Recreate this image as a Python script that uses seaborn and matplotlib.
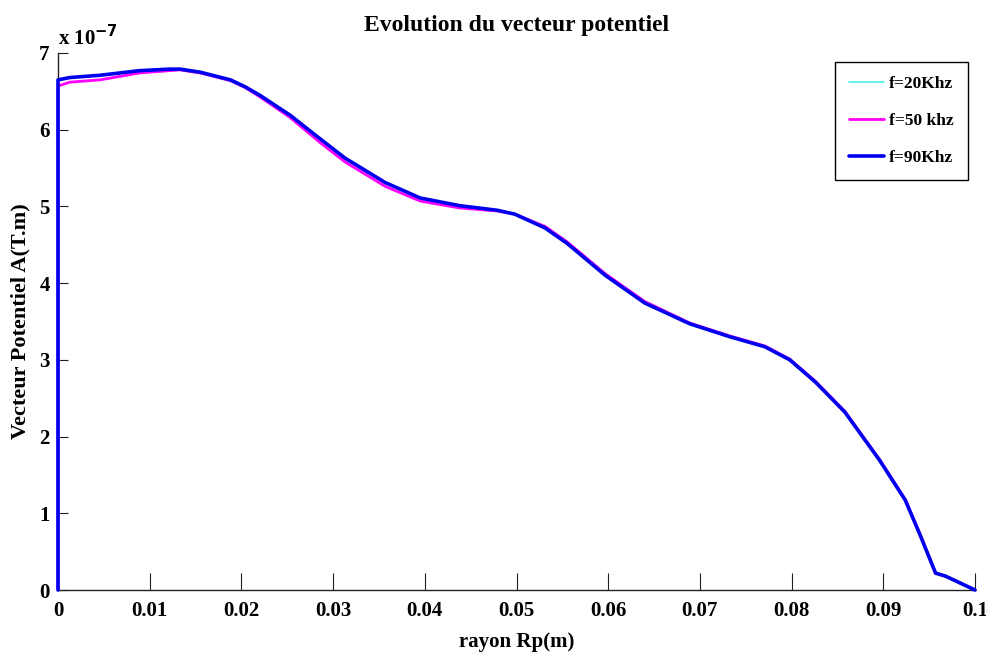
import numpy as np
import pandas as pd
import seaborn as sns
import matplotlib
matplotlib.use("Agg")
import matplotlib.pyplot as plt

# radius (m)
r = [0.0, 0.0, 0.0013, 0.0046, 0.0089, 0.0122, 0.0133, 0.0155, 0.0188, 0.0204, 0.0220,
     0.0253, 0.0286, 0.0313, 0.0357, 0.0395, 0.0438, 0.0479, 0.0498, 0.0531,
     0.0555, 0.0597, 0.0640, 0.0689, 0.0733, 0.0771, 0.0798, 0.0826, 0.0858,
     0.0896, 0.0924, 0.0940, 0.0957, 0.0968, 0.1000]

# vector potential (x 1e-7 T.m)
a_20 = [0.0, 6.65, 6.68, 6.71, 6.77, 6.79, 6.79, 6.75, 6.65, 6.56, 6.45,
        6.19, 5.88, 5.63, 5.31, 5.11, 5.01, 4.95, 4.90, 4.72,
        4.52, 4.10, 3.74, 3.47, 3.30, 3.17, 3.00, 2.71, 2.32,
        1.69, 1.17, 0.72, 0.22, 0.18, 0.0]
a_50 = [0.0, 6.57, 6.62, 6.65, 6.74, 6.77, 6.78, 6.74, 6.64, 6.55, 6.43,
        6.16, 5.83, 5.58, 5.26, 5.07, 4.98, 4.94, 4.90, 4.74,
        4.54, 4.12, 3.76, 3.48, 3.31, 3.18, 3.01, 2.72, 2.33,
        1.70, 1.18, 0.73, 0.22, 0.18, 0.0]
a_90 = [0.0, 6.65, 6.68, 6.71, 6.77, 6.79, 6.79, 6.75, 6.65, 6.56, 6.45,
        6.19, 5.88, 5.63, 5.31, 5.11, 5.01, 4.95, 4.90, 4.72,
        4.52, 4.10, 3.74, 3.47, 3.30, 3.17, 3.00, 2.71, 2.32,
        1.69, 1.17, 0.72, 0.22, 0.18, 0.0]

labels = ["f=20Khz", "f=50 khz", "f=90Khz"]
colors = ["#44f0f0", "#ff00ff", "#0000ee"]
widths = [1.2, 2.0, 2.6]

xticks = [0, 0.01, 0.02, 0.03, 0.04, 0.05, 0.06, 0.07, 0.08, 0.09, 0.1]
xticklabels = ["0", "0.01", "0.02", "0.03", "0.04", "0.05", "0.06", "0.07", "0.08", "0.09", "0.1"]
yticks = [0, 1, 2, 3, 4, 5, 6, 7]

frames = []
for lab, vals in zip(labels, [a_20, a_50, a_90]):
    frames.append(pd.DataFrame({"r": r, "A": vals, "f": lab, "i": np.arange(len(r))}))
df = pd.concat(frames, ignore_index=True)

sns.set_style("white")
plt.rcParams["font.family"] = ["Liberation Serif", "DejaVu Serif"]
plt.rcParams["font.weight"] = "bold"
plt.rcParams["text.color"] = "black"
plt.rcParams["axes.labelcolor"] = "black"
plt.rcParams["xtick.color"] = "black"
plt.rcParams["ytick.color"] = "black"

fig = plt.figure(figsize=(9.86, 6.61), dpi=100)
ax = fig.add_axes([58 / 986, 71 / 661, 917 / 986, 537 / 661])

for lab, c, lw in zip(labels, colors, widths):
    sub = df[df["f"] == lab]
    sns.lineplot(data=sub, x="r", y="A", ax=ax, color=c, linewidth=lw,
                 sort=False, estimator=None, label=lab, zorder=3, clip_on=False)

ax.set_xlim(0, 0.1)
ax.set_ylim(0, 7)
ax.set_xticks(xticks)
ax.set_xticklabels(xticklabels)
ax.set_yticks(yticks)
ax.set_yticklabels([str(v) for v in yticks])

for s in ["top", "right"]:
    ax.spines[s].set_visible(False)
for s in ["left", "bottom"]:
    ax.spines[s].set_color("#222222")
    ax.spines[s].set_linewidth(1.0)
    ax.spines[s].set_zorder(1)

ax.tick_params(axis="x", direction="in", length=12, width=0.8, color="#222222",
               labelcolor="black", labelsize=15, pad=8, bottom=True)
ax.tick_params(axis="y", direction="in", length=7, width=0.8, color="#222222",
               labelcolor="black", labelsize=15, pad=6, left=True)
for t in ax.get_xticklabels() + ax.get_yticklabels():
    t.set_fontweight("bold")

ax.set_xlabel("rayon Rp(m)", fontsize=15, fontweight="bold", labelpad=8, color="black")
ax.set_ylabel("Vecteur Potentiel A(T.m)", fontsize=16, fontweight="bold",
              va="center", ha="center", color="black")
ax.yaxis.set_label_coords(-0.041, 0.5)
ax.set_title("Evolution du vecteur potentiel", fontsize=17, fontweight="bold", pad=16,
             color="black")

ax.text(0.0, 1.005, r"x 10$^{\mathbf{-7}}$", transform=ax.transAxes, fontsize=15,
        fontweight="bold", ha="left", va="bottom", color="black")

leg = ax.legend(loc="upper right", bbox_to_anchor=(0.992, 0.983), fontsize=12.5,
                frameon=True, fancybox=False, edgecolor="black", framealpha=1,
                borderaxespad=0, labelspacing=1.2, handlelength=2.0,
                handletextpad=0.3, borderpad=0.8)
leg.get_frame().set_linewidth(1.0)
leg.set_zorder(5)
for t in leg.get_texts():
    t.set_fontweight("bold")
    t.set_color("black")

fig.savefig("out.png", dpi=100)
